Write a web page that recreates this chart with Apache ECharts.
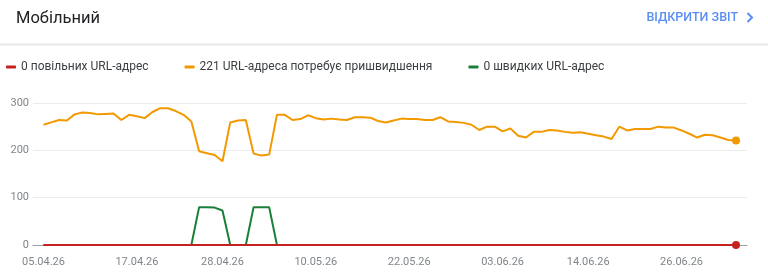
<!DOCTYPE html>
<html><head><meta charset="utf-8">
<script src="https://cdn.jsdelivr.net/npm/echarts@6/dist/echarts.min.js"></script>
<style>html,body{margin:0;padding:0;background:#fff}#c{width:768px;height:275px}</style>
</head><body><div id="c"></div>
<script>
const dates = [
  '05.04.26','06.04.26','07.04.26','08.04.26','09.04.26','10.04.26','11.04.26','12.04.26','13.04.26','14.04.26',
  '15.04.26','16.04.26','17.04.26','18.04.26','19.04.26','20.04.26','21.04.26','22.04.26','23.04.26','24.04.26',
  '25.04.26','26.04.26','27.04.26','28.04.26','29.04.26','30.04.26','01.05.26','02.05.26','03.05.26','04.05.26',
  '05.05.26','06.05.26','07.05.26','08.05.26','09.05.26','10.05.26','11.05.26','12.05.26','13.05.26','14.05.26',
  '15.05.26','16.05.26','17.05.26','18.05.26','19.05.26','20.05.26','21.05.26','22.05.26','23.05.26','24.05.26',
  '25.05.26','26.05.26','27.05.26','28.05.26','29.05.26','30.05.26','31.05.26','01.06.26','02.06.26','03.06.26',
  '04.06.26','05.06.26','06.06.26','07.06.26','08.06.26','09.06.26','10.06.26','11.06.26','12.06.26','13.06.26',
  '14.06.26','15.06.26','16.06.26','17.06.26','18.06.26','19.06.26','20.06.26','21.06.26','22.06.26','23.06.26',
  '24.06.26','25.06.26','26.06.26','27.06.26','28.06.26','29.06.26','30.06.26','01.07.26','02.07.26','03.07.26'
];
const tickLabels = ['05.04.26','17.04.26','28.04.26','10.05.26','22.05.26','03.06.26','14.06.26','26.06.26'];
const seriesNames = ['0 повільних URL-адрес', '221 URL-адреса потребує пришвидшення', '0 швидких URL-адрес'];
const slowValues = [
  0,0,0,0,0,0,0,0,0,0, 0,0,0,0,0,0,0,0,0,0, 0,0,0,0,0,0,0,0,0,0,
  0,0,0,0,0,0,0,0,0,0, 0,0,0,0,0,0,0,0,0,0, 0,0,0,0,0,0,0,0,0,0,
  0,0,0,0,0,0,0,0,0,0, 0,0,0,0,0,0,0,0,0,0, 0,0,0,0,0,0,0,0,0,0
];
const needsImprovementValues = [
  254,259,264,263,276,280,279,276,277,278,
  264,275,272,268,281,289,289,283,275,261,
  198,194,190,177,259,263,264,193,189,191,
  275,275,264,266,274,268,265,267,265,264,
  270,270,269,262,259,263,267,266,266,264,
  264,270,261,260,258,254,243,250,250,240,
  246,231,227,239,239,243,242,239,237,238,
  235,232,229,224,250,242,245,245,245,250,
  248,248,242,235,227,233,232,227,222,221
];
const fastValues = [
  0,0,0,0,0,0,0,0,0,0, 0,0,0,0,0,0,0,0,0,0,
  80,80,79,73,0,0,0,80,80,80,
  0,0,0,0,0,0,0,0,0,0, 0,0,0,0,0,0,0,0,0,0, 0,0,0,0,0,0,0,0,0,0,
  0,0,0,0,0,0,0,0,0,0, 0,0,0,0,0,0,0,0,0,0, 0,0,0,0,0,0,0,0,0,0
];

const colors = ['#c5221f', '#f29900', '#188038'];
const last = dates.length - 1;
const tickIdx = tickLabels.map(l => dates.indexOf(l));
const toPts = arr => arr.map((v, i) => [i, v]);
const dotSize = (v, p) => (p.dataIndex === last ? 8 : 0);

const chart = echarts.init(document.getElementById('c'), null, {renderer: 'canvas'});
chart.setOption({
  animation: false,
  textStyle: {fontFamily: 'Roboto'},
  title: {
    text: 'Мобільний', left: 11, top: 5,
    textStyle: {fontSize: 16.5, fontWeight: 'normal', color: '#202124', fontFamily: 'Roboto'}
  },
  legend: {
    data: seriesNames.map(n => ({name: n, icon: 'roundRect'})),
    left: 6, top: 61, padding: 0,
    itemWidth: 10, itemHeight: 3, itemGap: 36,
    selectedMode: false,
    textStyle: {fontSize: 12, color: '#3c4043', fontFamily: 'Roboto'}
  },
  grid: {left: 33, right: 21, top: 103, bottom: 30},
  xAxis: {
    type: 'value', min: -1.35, max: 90.41,
    axisLine: {show: true, lineStyle: {color: '#9aa0a6', width: 1}},
    axisTick: {show: false},
    splitLine: {show: false},
    axisLabel: {
      customValues: tickIdx,
      formatter: v => dates[Math.round(v)],
      color: '#80868b', fontSize: 11, margin: 12
    }
  },
  yAxis: {
    type: 'value', min: 0, max: 300, interval: 100,
    axisLine: {show: false}, axisTick: {show: false},
    axisLabel: {color: '#80868b', fontSize: 11, margin: 4},
    splitLine: {lineStyle: {color: '#ebebeb', width: 1}}
  },
  series: [
    {
      name: seriesNames[2], type: 'line', data: toPts(fastValues), z: 2,
      symbol: 'none', lineStyle: {width: 2, color: colors[2]}, itemStyle: {color: colors[2]}
    },
    {
      name: seriesNames[1], type: 'line', data: toPts(needsImprovementValues), z: 3,
      symbol: 'circle', showSymbol: true, showAllSymbol: true, symbolSize: dotSize,
      lineStyle: {width: 2, color: colors[1]}, itemStyle: {color: colors[1]}
    },
    {
      name: seriesNames[0], type: 'line', data: toPts(slowValues), z: 4,
      symbol: 'circle', showSymbol: true, showAllSymbol: true, symbolSize: dotSize,
      lineStyle: {width: 2, color: colors[0]}, itemStyle: {color: colors[0]}
    }
  ],
  graphic: [
    {type: 'line', shape: {x1: 0, y1: 44.5, x2: 768, y2: 44.5}, style: {stroke: '#e8e8e8', lineWidth: 2}, silent: true},
    {type: 'text', x: 738, y: 17.5, silent: true,
      style: {text: 'ВІДКРИТИ ЗВІТ', align: 'right', verticalAlign: 'middle', font: '500 12.5px Roboto', fill: '#5a8ef0'}},
    {type: 'polyline', silent: true,
      shape: {points: [[747.5, 13], [752, 17.5], [747.5, 22]]},
      style: {stroke: '#5a8ef0', lineWidth: 2, fill: null}}
  ]
});
</script>
</body></html>
